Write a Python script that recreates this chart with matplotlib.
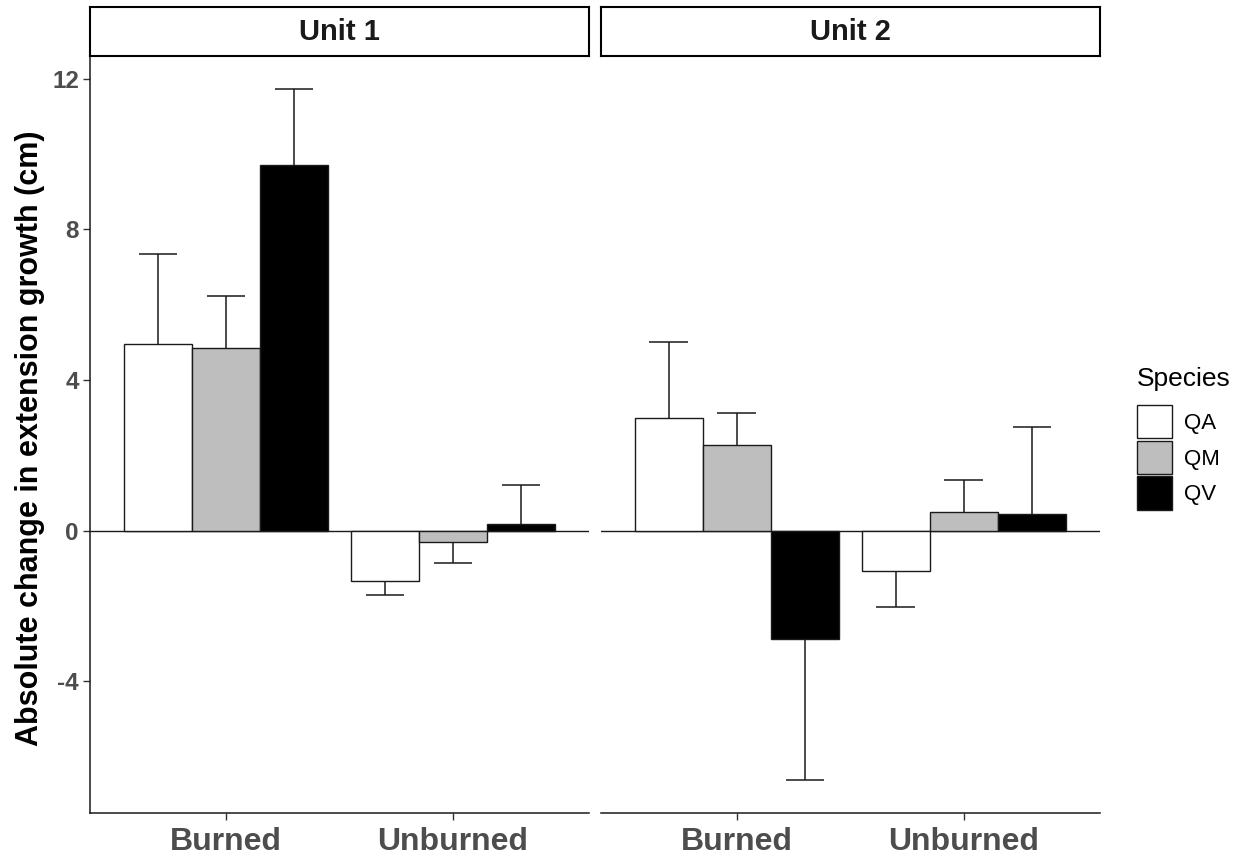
import numpy as np
import matplotlib
matplotlib.use("Agg")
import matplotlib.pyplot as plt
from matplotlib.patches import Patch

plt.rcParams["font.family"] = ["Liberation Sans", "DejaVu Sans"]

# ─── Data ───
units = ["Unit 1", "Unit 2"]
treatments = ["Burned", "Unburned"]
species = ["QA", "QM", "QV"]
species_colors = ["white", "#BEBEBE", "black"]

# rows = treatment (Burned, Unburned), cols = species (QA, QM, QV)
means_unit1 = np.array([[4.94, 4.84, 9.70],
                        [-1.33, -0.30, 0.18]])
se_unit1 = np.array([[2.39, 1.38, 2.02],
                     [0.39, 0.56, 1.02]])
means_unit2 = np.array([[3.00, 2.27, -2.89],
                        [-1.07, 0.50, 0.43]])
se_unit2 = np.array([[2.01, 0.86, 3.73],
                     [0.95, 0.83, 2.31]])

y_ticks = [-4, 0, 4, 8, 12]

# ─── Layout (pixels of a 1241x860 canvas) ───
W, H = 1241, 860
fig = plt.figure(figsize=(W / 100, H / 100), dpi=100)

panel_top, panel_bot = 56, 813
panels_x = [(90, 589), (600.5, 1100)]
strip_h = 49

bar_w = 0.3
cap_w = 0.17
line_c = "#1a1a1a"
tick_c = "#4D4D4D"


def draw_panel(ax, means, se, show_y):
    x = np.arange(len(treatments))
    ax.axhline(0, color=line_c, lw=1.0, zorder=1)
    for j, sp in enumerate(species):
        pos = x + (j - 1) * bar_w
        vals = means[:, j]
        ax.bar(pos, vals, width=bar_w, color=species_colors[j],
               edgecolor=line_c, linewidth=1.0, zorder=2)
        ends = vals + np.sign(vals) * se[:, j]
        ax.vlines(pos, vals, ends, color=line_c, lw=1.1, zorder=3)
        ax.hlines(ends, pos - cap_w / 2, pos + cap_w / 2, color=line_c, lw=1.1, zorder=3)

    ax.set_xlim(-0.6, 1.6)
    ax.set_ylim(-7.5, 12.6)
    ax.set_xticks(x)
    ax.set_xticklabels(treatments, fontsize=23, fontweight="bold", color=tick_c)
    ax.set_yticks(y_ticks)
    for s in ["top", "right"]:
        ax.spines[s].set_visible(False)
    ax.spines["bottom"].set_color(line_c)
    ax.spines["bottom"].set_linewidth(1.1)
    ax.spines["left"].set_color(line_c)
    ax.spines["left"].set_linewidth(1.1)
    ax.tick_params(axis="x", length=5, width=1.0, color="#333333", pad=5)
    if show_y:
        ax.set_yticklabels([str(t) for t in y_ticks], fontsize=17.5,
                           fontweight="bold", color=tick_c)
        ax.tick_params(axis="y", length=5, width=1.0, color="#333333", pad=3)
    else:
        ax.spines["left"].set_visible(False)
        ax.tick_params(axis="y", left=False, labelleft=False)


for i, (unit, means, se) in enumerate(zip(units, [means_unit1, means_unit2],
                                          [se_unit1, se_unit2])):
    x0, x1 = panels_x[i]
    ax = fig.add_axes([x0 / W, 1 - panel_bot / H, (x1 - x0) / W,
                       (panel_bot - panel_top) / H])
    draw_panel(ax, means, se, show_y=(i == 0))

    sax = fig.add_axes([x0 / W, 1 - panel_top / H, (x1 - x0) / W, strip_h / H])
    sax.set_xticks([])
    sax.set_yticks([])
    for s in sax.spines.values():
        s.set_color("black")
        s.set_linewidth(1.5)
    sax.text(0.5, 0.5, unit, ha="center", va="center", fontsize=21,
             fontweight="bold", color="#1a1a1a", transform=sax.transAxes)

fig.text(30 / W, 1 - 438 / H, "Absolute change in extension growth (cm)",
         rotation=90, ha="center", va="center", fontsize=22, fontweight="bold")

handles = [Patch(facecolor=c, edgecolor=line_c, linewidth=1.0) for c in species_colors]
leg = fig.legend(handles, species, loc="upper left",
                 bbox_to_anchor=(1128 / W, 1 - 358 / H), frameon=False,
                 title="Species", fontsize=16, title_fontsize=19,
                 handlelength=1.6, handleheight=1.95, labelspacing=0.1,
                 handletextpad=0.5, borderaxespad=0, borderpad=0.4)
leg._legend_box.align = "left"
leg._legend_box.sep = 10

fig.savefig("out.png", dpi=100)
